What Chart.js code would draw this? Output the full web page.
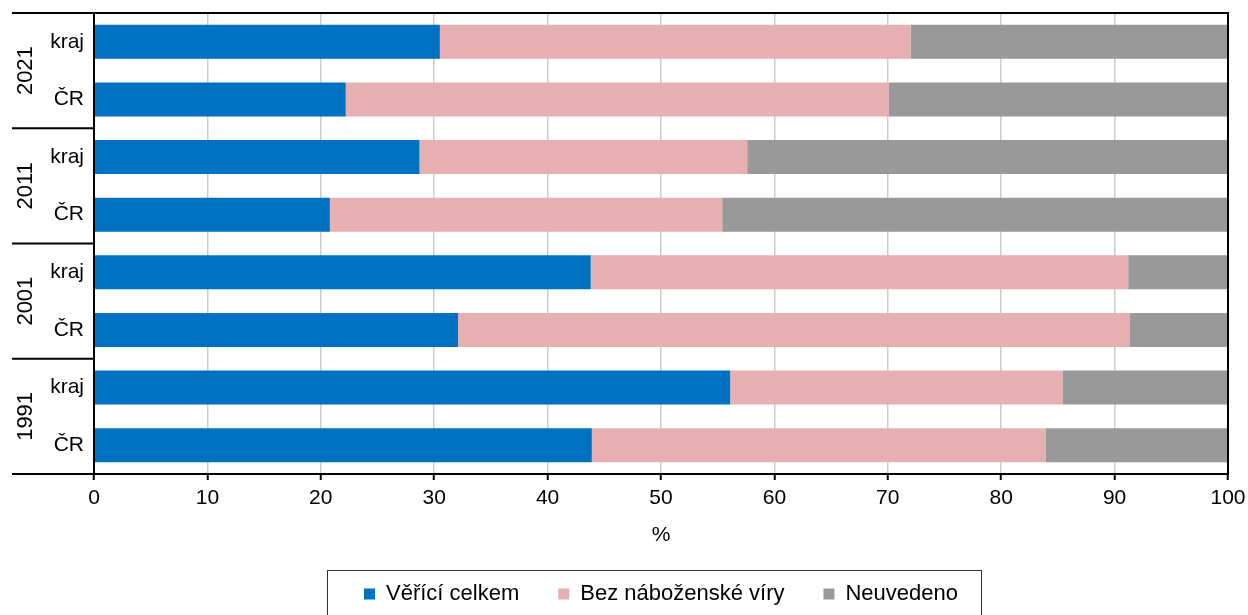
<!DOCTYPE html>
<html lang="cs">
<head>
<meta charset="utf-8">
<title>Náboženská víra</title>
<script src="https://cdn.jsdelivr.net/npm/chart.js@4.4.1/dist/chart.umd.min.js"></script>
<style>
  html, body { margin: 0; padding: 0; background: #fff; }
  #wrap { width: 1248px; height: 615px; }
</style>
</head>
<body>
<div id="wrap"><canvas id="chart" width="1248" height="615"></canvas></div>
<script>
// Data (percent)
const years = ['2021', '2011', '2001', '1991'];
const rowLabels = ['kraj', 'ČR', 'kraj', 'ČR', 'kraj', 'ČR', 'kraj', 'ČR'];
const seriesNames = ['Věřící celkem', 'Bez náboženské víry', 'Neuvedeno'];
const believers = [30.5, 22.2, 28.7, 20.8, 43.8, 32.1, 56.1, 43.9];
const noFaith = [41.5, 47.9, 28.9, 34.6, 47.4, 59.2, 29.3, 40.0];
const notStated = [28.0, 29.9, 42.4, 44.6, 8.8, 8.7, 14.6, 16.1];

const COLORS = ['#0070C0', '#E6AFB2', '#999999'];
const FONT = "'Liberation Sans', Arial, sans-serif";

// Frame around the plot, year groups on the left and a box round the legend
const decorations = {
  id: 'decorations',
  afterDraw(chart) {
    const { ctx, chartArea, scales } = chart;
    const y = scales.y;
    const band = y.getPixelForValue(1) - y.getPixelForValue(0);
    ctx.save();
    ctx.strokeStyle = '#000';
    ctx.lineWidth = 2;
    ctx.strokeRect(chartArea.left, chartArea.top, chartArea.right - chartArea.left, chartArea.bottom - chartArea.top);

    // group dividers + rotated year labels
    ctx.beginPath();
    for (let g = 0; g <= years.length; g++) {
      const py = y.getPixelForValue(g * 2) - band / 2;
      ctx.moveTo(12, py);
      ctx.lineTo(chartArea.left, py);
    }
    ctx.stroke();
    ctx.fillStyle = '#000';
    ctx.font = `22px ${FONT}`;
    ctx.textAlign = 'center';
    ctx.textBaseline = 'middle';
    years.forEach((yr, g) => {
      const cy = (y.getPixelForValue(g * 2) + y.getPixelForValue(g * 2 + 1)) / 2;
      ctx.save();
      ctx.translate(26, cy);
      ctx.rotate(-Math.PI / 2);
      ctx.fillText(yr, 0, 0);
      ctx.restore();
    });

    // legend border
    const boxes = chart.legend.legendHitBoxes;
    if (boxes && boxes.length) {
      const first = boxes[0];
      const last = boxes[boxes.length - 1];
      const cy = first.top + first.height / 2;
      ctx.strokeStyle = '#333';
      ctx.lineWidth = 1;
      ctx.strokeRect(first.left - 36.5, cy - 23.5, (last.left + last.width + 24) - (first.left - 36), 60);
    }
    ctx.restore();
  }
};

const ctx = document.getElementById('chart');
new Chart(ctx, {
  type: 'bar',
  data: {
    labels: rowLabels,
    datasets: [
      { label: seriesNames[0], data: believers, backgroundColor: COLORS[0] },
      { label: seriesNames[1], data: noFaith, backgroundColor: COLORS[1] },
      { label: seriesNames[2], data: notStated, backgroundColor: COLORS[2] }
    ]
  },
  options: {
    indexAxis: 'y',
    responsive: false,
    animation: false,
    datasets: {
      bar: { barPercentage: 0.59, categoryPercentage: 1 }
    },
    layout: { padding: { top: 13, right: 20, left: 0, bottom: 0 } },
    plugins: {
      tooltip: { enabled: false },
      legend: {
        position: 'bottom',
        fullSize: false,
        labels: {
          boxWidth: 11,
          boxHeight: 11,
          padding: 39,
          color: '#000',
          font: { family: FONT, size: 22 }
        }
      }
    },
    scales: {
      x: {
        stacked: true,
        min: 0,
        max: 100,
        ticks: { stepSize: 10, color: '#000', padding: 6, maxRotation: 0, font: { family: FONT, size: 21 } },
        grid: { color: '#cccccc', lineWidth: 1.5, tickColor: '#000', tickLength: 6, tickWidth: 2 },
        border: { color: '#000', width: 2 },
        title: { display: true, text: '%', color: '#000', font: { family: FONT, size: 21 }, padding: { top: 0, bottom: -3.6 } },
        afterFit(scale) {
          scale.height = 70;
          // "100" may overhang the right edge, as in the original
          scale.paddingLeft = 0;
          scale.paddingRight = 0;
        }
      },
      y: {
        stacked: true,
        ticks: { color: '#000', padding: 10, font: { family: FONT, size: 21 } },
        grid: { drawOnChartArea: false, drawTicks: false },
        border: { color: '#000', width: 2 },
        afterFit(scale) {
          scale.width = 94;
          // the label half-heights should not push the plot area down
          scale.paddingTop = 0;
          scale.paddingBottom = 0;
        }
      }
    }
  },
  plugins: [decorations]
});
</script>
</body>
</html>
